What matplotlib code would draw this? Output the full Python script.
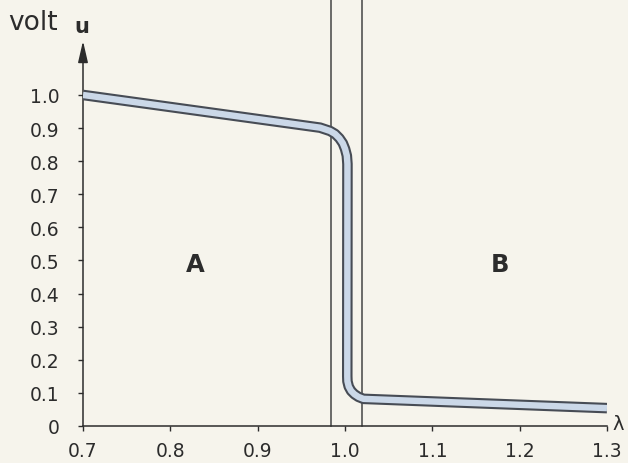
import matplotlib
matplotlib.use('Agg')
import matplotlib.pyplot as plt
import matplotlib.patheffects as pe

plt.rcParams['font.family'] = ['DejaVu Sans']

# curve (lambda, u)
lam = [0.700, 0.9600, 0.9715, 0.9829, 0.9887, 0.9936, 0.9975, 1.0001, 1.0021, 1.0028,
       1.0026, 1.0028, 1.0043, 1.0070, 1.0108, 1.0154, 1.0211, 1.160, 1.300]
u = [1.000, 0.9054, 0.9012, 0.8912, 0.8822, 0.8692, 0.8541, 0.8369, 0.8166, 0.7915,
     0.150, 0.135, 0.119, 0.106, 0.096, 0.088, 0.082, 0.068, 0.054]

boundaries = [0.9837, 1.0192]
xticks = [0.7, 0.8, 0.9, 1.0, 1.1, 1.2, 1.3]
xlabels = ['0.7', '0.8', '0.9', '1.0', '1.1', '1.2', '1.3']
yticks = [0, 0.1, 0.2, 0.3, 0.4, 0.5, 0.6, 0.7, 0.8, 0.9, 1.0]
ylabels = ['0', '0.1', '0.2', '0.3', '0.4', '0.5', '0.6', '0.7', '0.8', '0.9', '1.0']
regions = [('A', 0.829, 0.49), ('B', 1.178, 0.49)]

bg = '#f6f4ec'
ink = '#2c2c2c'
W, H = 628, 464
fig = plt.figure(figsize=(W / 100, H / 100), dpi=100, facecolor=bg)
ax = fig.add_axes([83 / W, 1 - 427 / H, (607 - 83) / W, (427 - 42) / H])
ax.set_facecolor(bg)
ax.set_xlim(0.7, 1.3)
ax.set_ylim(0, 1.163)

for s in ['top', 'right', 'left']:
    ax.spines[s].set_visible(False)
ax.spines['bottom'].set_color(ink)
ax.spines['bottom'].set_linewidth(1.1)

ax.annotate('', xy=(0.7, 1.163), xytext=(0.7, 0), xycoords='data',
            arrowprops=dict(arrowstyle='-|>,head_length=0.65,head_width=0.15',
                            mutation_scale=20, lw=1.1, color=ink, shrinkA=0, shrinkB=0),
            annotation_clip=False)

for b in boundaries:
    ax.plot([b, b], [0, 1.30], color='#444444', lw=1.1, clip_on=False, zorder=2)

ax.plot(lam, u, color='#cbd8e8', lw=4.6, solid_joinstyle='round', solid_capstyle='butt',
        zorder=3,
        path_effects=[pe.Stroke(linewidth=7.6, foreground='#474c55'), pe.Normal()])

ax.set_xticks(xticks)
ax.set_xticklabels(xlabels)
ax.set_yticks(yticks)
ax.set_yticklabels(ylabels)
ax.tick_params(axis='both', direction='out', length=3.8, width=1.0, color=ink,
               labelsize=13.5, labelcolor=ink)
ax.tick_params(axis='x', pad=7)
ax.tick_params(axis='y', pad=13)

for name, x, y in regions:
    ax.text(x, y, name, fontsize=17.5, fontweight='bold', color=ink, ha='center', va='center')

fig.text(8 / W, 1 - 30 / H, 'volt', fontsize=19, color=ink, ha='left', va='baseline')
fig.text(82 / W, 1 - 33 / H, 'u', fontsize=15, fontweight='bold', color=ink,
         ha='center', va='baseline')
fig.text(612 / W, 1 - 425 / H, 'λ', fontsize=14, color=ink, ha='left', va='center')

fig.savefig('out.png', dpi=100, facecolor=bg)
